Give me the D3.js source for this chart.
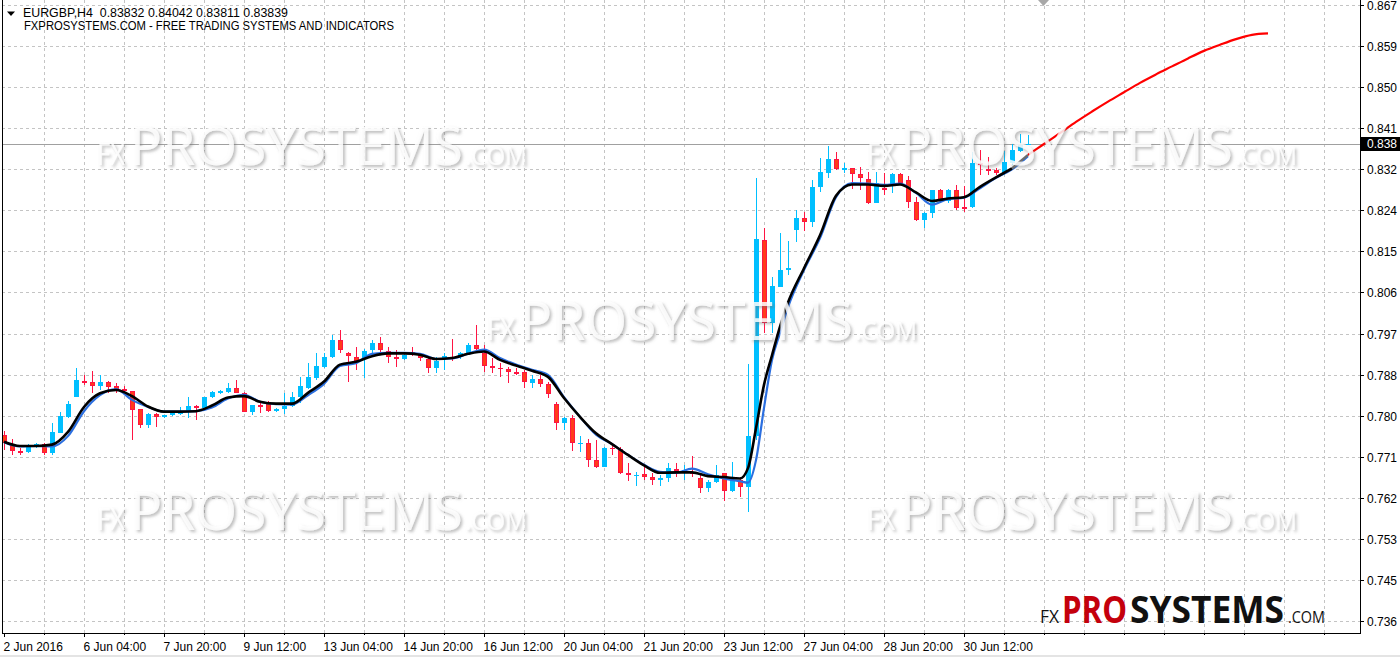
<!DOCTYPE html>
<html><head><meta charset="utf-8">
<script src="https://cdn.jsdelivr.net/npm/d3@7"></script>
<style>body{margin:0;background:#fff;overflow:hidden}svg{display:block}</style>
</head><body><svg id="c" width="1400" height="657"></svg>
<script>
// ---------- DATA ----------
const headerLine1 = "EURGBP,H4  0.83832 0.84042 0.83811 0.83839";
const headerLine2 = "FXPROSYSTEMS.COM - FREE TRADING SYSTEMS AND INDICATORS";

const open = [0.7765,0.7746,0.7731,0.7729,0.7740,0.7746,0.7727,0.7770,0.7804,0.7846,
0.7880,0.7878,0.7870,0.7878,0.7870,0.7863,0.7859,0.7821,0.7787,0.7810,
0.7804,0.7808,0.7810,0.7814,0.7827,0.7823,0.7846,0.7855,0.7857,0.7865,
0.7855,0.7814,0.7829,0.7836,0.7816,0.7821,0.7827,0.7846,0.7865,0.7887,
0.7910,0.7931,0.7967,0.7940,0.7931,0.7927,0.7946,0.7961,0.7944,0.7931,
0.7927,0.7942,0.7935,0.7927,0.7908,0.7927,0.7931,0.7931,0.7940,0.7957,
0.7940,0.7912,0.7908,0.7906,0.7899,0.7899,0.7876,0.7884,0.7874,0.7831,
0.7791,0.7801,0.7747,0.7748,0.7712,0.7697,0.7738,0.7736,0.7685,0.7679,
0.7682,0.7676,0.7670,0.7674,0.7693,0.7687,0.7687,0.7674,0.7653,0.7665,
0.7685,0.7646,0.7670,0.7655,0.7763,0.8180,0.8003,0.8080,0.8116,0.8201,
0.8227,0.8218,0.8293,0.8322,0.8352,0.8329,0.8333,0.8320,0.8310,0.8259,
0.8290,0.8297,0.8320,0.8307,0.8261,0.8222,0.8237,0.8286,0.8263,0.8286,
0.8250,0.8250,0.8344,0.8331,0.8329,0.8322,0.8344,0.8369,0.83832];
const high = [0.7774,0.7757,0.7738,0.7746,0.7748,0.7748,0.7791,0.7814,0.7838,0.7908,
0.7893,0.7901,0.7893,0.7880,0.7876,0.7870,0.7859,0.7821,0.7812,0.7812,
0.7808,0.7812,0.7825,0.7846,0.7829,0.7846,0.7859,0.7861,0.7876,0.7882,
0.7857,0.7829,0.7836,0.7838,0.7823,0.7855,0.7857,0.7889,0.7918,0.7940,
0.7940,0.7978,0.7989,0.7942,0.7952,0.7948,0.7967,0.7974,0.7952,0.7946,
0.7940,0.7952,0.7940,0.7929,0.7931,0.7940,0.7969,0.7942,0.7961,0.7999,
0.7957,0.7929,0.7918,0.7910,0.7908,0.7904,0.7893,0.7893,0.7878,0.7836,
0.7804,0.7808,0.7763,0.7757,0.7755,0.7740,0.7742,0.7740,0.7706,0.7687,
0.7697,0.7685,0.7680,0.7706,0.7706,0.7702,0.7721,0.7680,0.7670,0.7702,
0.7685,0.7708,0.7676,0.7916,0.8312,0.8205,0.8101,0.8195,0.8178,0.8244,
0.8239,0.8307,0.8354,0.8380,0.8367,0.8344,0.8333,0.8335,0.8324,0.8324,
0.8322,0.8322,0.8322,0.8316,0.8271,0.8239,0.8286,0.8288,0.8288,0.8297,
0.8295,0.8367,0.8371,0.8356,0.8333,0.8369,0.8384,0.8405,0.84042];
const low = [0.7733,0.7723,0.7723,0.7727,0.7738,0.7723,0.7723,0.7770,0.7801,0.7846,
0.7872,0.7855,0.7861,0.7855,0.7855,0.7857,0.7755,0.7780,0.7780,0.7782,
0.7801,0.7806,0.7808,0.7801,0.7797,0.7823,0.7844,0.7853,0.7855,0.7855,
0.7814,0.7808,0.7812,0.7814,0.7814,0.7810,0.7825,0.7833,0.7863,0.7882,
0.7908,0.7929,0.7940,0.7878,0.7904,0.7887,0.7940,0.7940,0.7918,0.7910,
0.7925,0.7933,0.7923,0.7897,0.7897,0.7904,0.7923,0.7927,0.7935,0.7940,
0.7899,0.7897,0.7889,0.7876,0.7893,0.7865,0.7865,0.7867,0.7844,0.7776,
0.7776,0.7731,0.7729,0.7697,0.7695,0.7697,0.7723,0.7682,0.7668,0.7657,
0.7670,0.7659,0.7657,0.7665,0.7676,0.7670,0.7676,0.7642,0.7644,0.7663,
0.7625,0.7644,0.7634,0.7602,0.7755,0.7982,0.7982,0.8080,0.8105,0.8176,
0.8199,0.8207,0.8282,0.8312,0.8329,0.8322,0.8288,0.8286,0.8256,0.8259,
0.8276,0.8280,0.8297,0.8248,0.8220,0.8205,0.8227,0.8261,0.8259,0.8244,
0.8239,0.8248,0.8318,0.8318,0.8318,0.8318,0.8339,0.8367,0.83811];
const close = [0.7748,0.7731,0.7729,0.7742,0.7746,0.7727,0.7772,0.7806,0.7831,0.7882,
0.7878,0.7870,0.7878,0.7867,0.7863,0.7861,0.7819,0.7787,0.7810,0.7804,
0.7808,0.7812,0.7814,0.7827,0.7823,0.7846,0.7857,0.7859,0.7865,0.7855,
0.7814,0.7829,0.7825,0.7816,0.7821,0.7827,0.7846,0.7870,0.7889,0.7912,
0.7931,0.7967,0.7946,0.7933,0.7923,0.7944,0.7961,0.7946,0.7931,0.7927,
0.7935,0.7940,0.7929,0.7908,0.7923,0.7933,0.7929,0.7940,0.7957,0.7948,
0.7912,0.7908,0.7906,0.7899,0.7897,0.7878,0.7884,0.7874,0.7853,0.7791,
0.7801,0.7748,0.7749,0.7712,0.7697,0.7738,0.7735,0.7685,0.7680,0.7681,
0.7676,0.7670,0.7674,0.7695,0.7689,0.7691,0.7682,0.7653,0.7665,0.7680,
0.7646,0.7670,0.7655,0.7763,0.8182,0.8003,0.8082,0.8116,0.8120,0.8227,
0.8218,0.8293,0.8324,0.8352,0.8331,0.8333,0.8320,0.8312,0.8259,0.8301,
0.8288,0.8320,0.8301,0.8261,0.8222,0.8237,0.8286,0.8263,0.8286,0.8248,
0.8248,0.8344,0.8339,0.8327,0.8322,0.8346,0.8371,0.8382,0.83839];

// moving averages read at these bar indices
const maIdx = [0,2,4,6,8,10,12,14,16,18,20,22,24,26,28,30,32,34,36,38,40,42,44,46,48,50,
52,54,56,58,60,62,64,66,68,70,72,74,76,78,80,82,84,86,88,90,92,93,94,95,96,97,98,
100,102,104,106,108,110,112,114,116,118,120,122,124,126,128];
const maBlack = [0.7751,0.7742,0.7742,0.7745,0.7772,0.7825,0.7854,0.7861,0.7848,0.7826,
0.7815,0.7815,0.7816,0.7828,0.7845,0.7848,0.7836,0.7832,0.7832,0.7855,
0.7879,0.7915,0.7921,0.7933,0.7939,0.7939,0.7936,0.7927,0.7929,0.7938,
0.7943,0.7925,0.7913,0.7902,0.7889,0.7844,0.7804,0.7769,0.7746,0.7723,
0.7701,0.7685,0.7686,0.7686,0.7678,0.7676,0.7673,0.7695,0.7780,0.7872,
0.7935,0.7996,0.8047,0.8120,0.8190,0.8274,0.8298,0.8298,0.8295,0.8298,
0.8281,0.8263,0.8268,0.8271,0.8293,0.8313,0.8332,0.8361];
const maBlue = [0.7750,0.7741,0.7742,0.7741,0.7763,0.7816,0.7850,0.7863,0.7840,0.7825,
0.7815,0.7815,0.7816,0.7824,0.7843,0.7851,0.7836,0.7831,0.7830,0.7850,
0.7874,0.7912,0.7918,0.7938,0.7940,0.7940,0.7938,0.7927,0.7928,0.7938,
0.7947,0.7929,0.7915,0.7904,0.7893,0.7846,0.7804,0.7766,0.7746,0.7723,
0.7702,0.7687,0.7685,0.7694,0.7682,0.7673,0.7667,0.7664,0.7712,0.7823,
0.7925,0.7982,0.8037,0.8116,0.8184,0.8271,0.8301,0.8300,0.8297,0.8300,
0.8280,0.8255,0.8267,0.8270,0.8290,0.8312,0.8330,0.8358];
// projection line beyond the last bar
const fcIdx = [128,130,132,134,136,138,140,142,144,146,148,150,152,154,156,158];
const fcVal = [0.8361,0.8384,0.8407,0.8431,0.8453,0.8474,0.8494,0.8514,0.8532,0.8549,
0.8566,0.8582,0.8595,0.8607,0.8616,0.8619];

const yTickValues = [0.73700,0.74573,0.75446,0.76319,0.77192,0.78065,0.78938,0.79811,
0.80684,0.81557,0.82430,0.83303,0.84176,0.85049,0.85922,0.86795];
const yTickLabels = ["0.736","0.745","0.753","0.762","0.771","0.780","0.788","0.797",
"0.806","0.815","0.824","0.832","0.841","0.850","0.859","0.867"];
const xTickIdx = [0,10,20,30,40,50,60,70,80,90,100,110,120];
const xTickLabels = ["2 Jun 2016","6 Jun 04:00","7 Jun 20:00","9 Jun 12:00","13 Jun 04:00",
"14 Jun 20:00","16 Jun 12:00","20 Jun 04:00","21 Jun 20:00","23 Jun 12:00",
"27 Jun 04:00","28 Jun 20:00","30 Jun 12:00"];
const gridIdx = [5,10,15,20,25,30,35,40,45,50,55,60,65,70,75,80,85,90,95,100,105,110,
115,120,125,130,135,140,145,150,155,160,165];

// ---------- LAYOUT ----------
const L = 2, R = 1360, T = 0, B = 633;
const svg = d3.select("#c");
const x = d3.scaleLinear().domain([0, 169.5]).range([4, 1360]);
const y = d3.scaleLinear().domain([0.737, 0.86795]).range([621, 5]);
const font = "'Liberation Sans', Arial, sans-serif";
const BULL = "#00bfff", BEAR_FILL = "#ff3b1a", BEAR_LINE = "#ff1443";

const defs = svg.append("defs");
defs.append("clipPath").attr("id","plot").append("rect")
  .attr("x", L+1).attr("y", T).attr("width", R-L-1).attr("height", B-T);
const f = defs.append("filter").attr("id","emb").attr("x","-5%").attr("y","-20%").attr("width","110%").attr("height","140%");
f.append("feGaussianBlur").attr("in","SourceAlpha").attr("stdDeviation",1.4).attr("result","bl");
f.append("feOffset").attr("in","bl").attr("dx",1.5).attr("dy",1.5).attr("result","of");
f.append("feFlood").attr("flood-color","#6e6e6e").attr("flood-opacity",0.55);
f.append("feComposite").attr("in2","of").attr("operator","in").attr("result","sh");
const fm = f.append("feMerge");
fm.append("feMergeNode").attr("in","sh");
fm.append("feMergeNode").attr("in","SourceGraphic");

svg.append("rect").attr("width",1400).attr("height",657).attr("fill","#fff");

// grid via axes
const gGridY = svg.append("g").attr("transform",`translate(${L},0)`)
  .call(d3.axisRight(y).tickValues(yTickValues).tickSize(R-L).tickFormat(""));
const gGridX = svg.append("g").attr("transform",`translate(0,${B})`)
  .call(d3.axisBottom(x).tickValues(gridIdx).tickSize(-(B-T)).tickFormat(""));
[gGridY, gGridX].forEach(g => {
  g.select(".domain").remove();
  g.selectAll(".tick line").attr("stroke","#c4c4c4").attr("stroke-dasharray","3,3").attr("shape-rendering","crispEdges");
});
gGridY.selectAll(".tick").attr("transform", d => `translate(0,${Math.round(y(d))+0.5})`);
gGridX.selectAll(".tick").attr("transform", d => `translate(${Math.round(x(d))+0.5},0)`);

const plot = svg.append("g").attr("clip-path","url(#plot)");

// current price line
const lastC = close[close.length-1];
plot.append("line").attr("x1",L).attr("x2",R)
  .attr("y1",Math.round(y(lastC))+0.5).attr("y2",Math.round(y(lastC))+0.5)
  .attr("stroke","#a0a0a0").attr("stroke-width",1);

// candles
const bars = d3.range(open.length).map(i => ({i, o:open[i], h:high[i], l:low[i], c:close[i]}));
const cg = plot.append("g").attr("shape-rendering","crispEdges");
bars.forEach(d => {
  const cx = Math.round(x(d.i));
  const up = d.c >= d.o;
  const yt = y(Math.max(d.o,d.c)), yb = y(Math.min(d.o,d.c));
  cg.append("line").attr("x1",cx+0.5).attr("x2",cx+0.5)
    .attr("y1",y(d.h)).attr("y2",y(d.l))
    .attr("stroke", up ? BULL : BEAR_LINE).attr("stroke-width",1);
  if (up) {
    cg.append("rect").attr("x",cx-2).attr("width",5)
      .attr("y",yt).attr("height",Math.max(1,yb-yt)).attr("fill",BULL);
  } else {
    cg.append("rect").attr("x",cx-1.5).attr("width",4)
      .attr("y",yt+0.5).attr("height",Math.max(0.5,yb-yt-1))
      .attr("fill",BEAR_FILL).attr("stroke",BEAR_LINE).attr("stroke-width",1);
  }
});

// moving averages
const line = d3.line().x(d => x(d[0])).y(d => y(d[1])).curve(d3.curveMonotoneX);
const blueData = maIdx.map((k,j) => [k, maBlue[j]]);
const blackData = maIdx.map((k,j) => [k, maBlack[j]]);
plot.append("path").attr("d", line(blueData)).attr("fill","none")
  .attr("stroke","#2b6fe0").attr("stroke-width",2.2);
plot.append("path").attr("d", line(blackData.slice(0, blackData.length-1))).attr("fill","none")
  .attr("stroke","#000").attr("stroke-width",2.6);
plot.append("path").attr("d", line(blackData.slice(blackData.length-2))).attr("fill","none")
  .attr("stroke","#6d6d6d").attr("stroke-width",2.4);
// projection
plot.append("path").attr("d", line(fcIdx.map((k,j)=>[k, fcVal[j]]))).attr("fill","none")
  .attr("stroke","#ff0000").attr("stroke-width",2.2);

// watermarks
function watermark(g, x0, base) {
  const w = g.append("g").attr("filter","url(#emb)").attr("fill","#ffffff").attr("fill-opacity",0.82)
    .style("font-family","'Open Sans', 'Liberation Sans', sans-serif");
  w.append("text").attr("x",x0).attr("y",base).attr("font-size",31)
    .attr("textLength",28).attr("lengthAdjust","spacingAndGlyphs").text("FX");
  w.append("text").attr("x",x0+33).attr("y",base).attr("font-size",53)
    .attr("textLength",333).attr("lengthAdjust","spacingAndGlyphs").text("PROSYSTEMS");
  w.append("text").attr("x",x0+368).attr("y",base).attr("font-size",25)
    .attr("textLength",62).attr("lengthAdjust","spacingAndGlyphs").text(".COM");
}
const wm = svg.append("g");
watermark(wm, 97, 165);
watermark(wm, 867, 165);
watermark(wm, 487, 340);
watermark(wm, 97, 530);
watermark(wm, 867, 530);

// frame
svg.append("path").attr("d",`M${L+0.5},0V${B+0.5}H${R+0.5}V0`)
  .attr("fill","none").attr("stroke","#000").attr("stroke-width",1).attr("shape-rendering","crispEdges");

// right price axis
const ay = svg.append("g").attr("transform",`translate(${R},0)`)
  .call(d3.axisRight(y).tickValues(yTickValues).tickSize(4).tickPadding(3)
    .tickFormat((d,i) => yTickLabels[i]));
ay.select(".domain").remove();
ay.selectAll(".tick").attr("transform", d => `translate(0,${Math.round(y(d))+0.5})`);
ay.selectAll(".tick line").attr("stroke","#000").attr("shape-rendering","crispEdges");
ay.selectAll(".tick text").attr("fill","#000").style("font-family",font).style("font-size","12px")
  .attr("dy","0.36em");

// current price label
const yc = Math.round(y(lastC));
svg.append("rect").attr("x",R+1).attr("y",yc-7).attr("width",1400-R-1).attr("height",14).attr("fill","#000");
svg.append("text").attr("x",R+7).attr("y",yc).attr("dy","0.36em").attr("fill","#fff")
  .style("font-family",font).style("font-size","12px").text(d3.format(".5f")(lastC).slice(0,5));

// bottom time axis
const ax = svg.append("g").attr("transform",`translate(0,${B})`)
  .call(d3.axisBottom(x).tickValues([0].concat(gridIdx)).tickSize(4).tickPadding(5)
    .tickFormat(d => { const k = xTickIdx.indexOf(d); return k >= 0 ? xTickLabels[k] : ""; }));
ax.select(".domain").remove();
ax.selectAll(".tick").attr("transform", d => `translate(${Math.round(x(d))+0.5},0)`);
ax.selectAll(".tick line").attr("stroke","#000").attr("shape-rendering","crispEdges")
  .attr("y2", d => xTickIdx.indexOf(d) >= 0 ? 4 : 2);
ax.selectAll(".tick text").attr("text-anchor","start").attr("x",-1).attr("fill","#000")
  .style("font-family",font).style("font-size","12px");

// header
svg.append("path").attr("d","M7,11.5H15L11,16Z").attr("fill","#000");
svg.append("text").attr("x",23).attr("y",17).attr("textLength",265).attr("lengthAdjust","spacingAndGlyphs")
  .style("white-space","pre").attr("xml:space","preserve")
  .style("font-family",font).style("font-size","12px").attr("fill","#000").text(headerLine1);
svg.append("text").attr("x",24).attr("y",30).attr("textLength",370).attr("lengthAdjust","spacingAndGlyphs")
  .style("font-family",font).style("font-size","12px").attr("fill","#000").text(headerLine2);

// shift marker
svg.append("path").attr("d","M1038,0H1049L1043.5,6Z").attr("fill","#a8a8a8");

// bottom-right logo: each run scaled horizontally to its measured width
[["FX",1040,19,18,400,"#111"],["PRO",1062,65,38,700,"#c4000c"],
 ["SYSTEMS",1130,154,38,700,"#111"],[".COM",1288,37,17,400,"#111"]].forEach(p => {
  const g = svg.append("g");
  const t = g.append("text").attr("x",0).attr("y",0)
    .style("font-family","'Open Sans', 'Liberation Sans', sans-serif")
    .attr("font-size",p[3]).attr("font-weight",p[4]).attr("fill",p[5]).text(p[0]);
  const w = t.node().getComputedTextLength() || p[2];
  g.attr("transform",`translate(${p[1]},623) scale(${p[2]/w},1)`);
});

// window bottom strip
svg.append("rect").attr("x",0).attr("y",655).attr("width",1400).attr("height",2).attr("fill","#e4e4e4");
</script>
</body></html>
